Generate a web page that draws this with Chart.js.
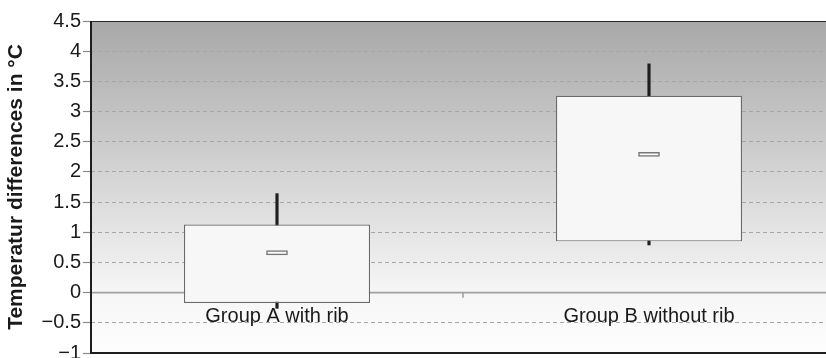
<!DOCTYPE html>
<html>
<head>
<meta charset="utf-8">
<script src="https://cdn.jsdelivr.net/npm/chart.js@4.4.0/dist/chart.umd.min.js"></script>
<style>
  html, body { margin: 0; padding: 0; background: #fff; overflow: hidden; }
  /* plot runs a little past the right edge of the window, as in the original */
  #wrap { width: 835px; height: 358px; }
</style>
</head>
<body>
<div id="wrap"><canvas id="chart_div"></canvas></div>
<script>

// values
var groups = ["Group A with rib", "Group B without rib"];
var boxLow = [-0.17, 0.85];
var boxHigh = [1.13, 3.26];
var whiskerLow = [-0.26, 0.79];
var whiskerHigh = [1.64, 3.79];
var medians = [0.66, 2.29];
var yTicks = [-1, -0.5, 0, 0.5, 1, 1.5, 2, 2.5, 3, 3.5, 4, 4.5];
var labelLevel = -0.4;   // category labels sit inside the plot, just under zero
var medianHalf = 0.035;

function pairs(a, b) {
    var out = [];
    for (var i = 0; i < a.length; i++) out.push([a[i], b[i]]);
    return out;
}

var medianBars = [];
for (var m = 0; m < medians.length; m++) {
    medianBars.push([medians[m] - medianHalf, medians[m] + medianHalf]);
}

function fmt(v) {
    return v < 0 ? "\u2212" + Math.abs(v) : String(v);
}

var backdrop = {
    id: "backdrop",
    beforeDraw: function (chart) {
        var a = chart.chartArea, ctx = chart.ctx;
        var ys = chart.scales.y;
        var zeroAt = (ys.getPixelForValue(0) - a.top) / (a.bottom - a.top);
        var g = ctx.createLinearGradient(0, a.top, 0, a.bottom);
        g.addColorStop(0, "#a8a8a8");
        g.addColorStop(zeroAt, "#f6f6f6");
        g.addColorStop(1, "#fdfdfd");
        ctx.save();
        ctx.fillStyle = g;
        ctx.fillRect(a.left, a.top, a.right - a.left, a.bottom - a.top);
        ctx.restore();
    },
    beforeDatasetsDraw: function (chart) {
        var a = chart.chartArea, ctx = chart.ctx;
        var y0 = chart.scales.y.getPixelForValue(0);
        var xs = chart.scales.x;
        var mid = (xs.getPixelForValue(0) + xs.getPixelForValue(1)) / 2;
        ctx.save();
        ctx.strokeStyle = "#a0a0a0";
        ctx.lineWidth = 1.6;
        ctx.beginPath();
        ctx.moveTo(a.left, y0);
        ctx.lineTo(a.right, y0);
        ctx.moveTo(mid, y0);
        ctx.lineTo(mid, y0 + 5);
        ctx.stroke();
        ctx.restore();
    },
    afterDatasetsDraw: function (chart) {
        var a = chart.chartArea, ctx = chart.ctx;
        var xs = chart.scales.x, ys = chart.scales.y;
        ctx.save();
        ctx.fillStyle = "#1a1a1a";
        ctx.font = "20px 'Liberation Sans', Arial, sans-serif";
        ctx.textAlign = "center";
        ctx.textBaseline = "middle";
        for (var i = 0; i < groups.length; i++) {
            ctx.fillText(groups[i], xs.getPixelForValue(i), ys.getPixelForValue(labelLevel));
        }
        // frame
        ctx.strokeStyle = "#2a2a2a";
        ctx.lineWidth = 1;
        ctx.beginPath();
        ctx.moveTo(a.left, a.top + 0.5);
        ctx.lineTo(a.right, a.top + 0.5);
        ctx.stroke();
        ctx.lineWidth = 2;
        ctx.strokeStyle = "#1e1e1e";
        ctx.beginPath();
        ctx.moveTo(a.left, a.top);
        ctx.lineTo(a.left, a.bottom);
        ctx.lineTo(a.right, a.bottom);
        ctx.stroke();
        ctx.restore();
    }
};

var data = {
    labels: groups,
    datasets: [
        {
            label: "median",
            data: medianBars,
            backgroundColor: "#fafafa",
            borderColor: "#777777",
            borderWidth: 1.5,
            borderSkipped: false,
            barThickness: 21,
            grouped: false,
            order: 0
        },
        {
            label: "box",
            data: pairs(boxLow, boxHigh),
            backgroundColor: "#f7f7f7",
            borderColor: "#6a6a6a",
            borderWidth: 1.2,
            borderSkipped: false,
            barPercentage: 0.5,
            categoryPercentage: 1,
            grouped: false,
            order: 1
        },
        {
            label: "whisker",
            data: pairs(whiskerLow, whiskerHigh),
            backgroundColor: "#1e1e1e",
            borderWidth: 0,
            barThickness: 2.5,
            grouped: false,
            order: 2
        }
    ]
};

var options = {
    responsive: true,
    maintainAspectRatio: false,
    animation: false,
    layout: { padding: { top: 21, bottom: 5, left: 0, right: 0 } },
    plugins: { legend: { display: false }, tooltip: { enabled: false } },
    scales: {
        x: {
            display: false
        },
        y: {
            min: -1,
            max: 4.5,
            afterBuildTicks: function (scale) {
                scale.ticks = yTicks.map(function (v) { return { value: v }; });
            },
            afterFit: function (scale) {
                scale.width = 91;
                scale.paddingTop = 0;
                scale.paddingBottom = 0;
            },
            grid: {
                color: "#a6a6a6",
                lineWidth: 1,
                drawTicks: true,
                tickLength: 8,
                tickColor: "#8a8a8a",
                tickWidth: 1.2
            },
            border: { display: false, dash: [4, 3] },
            ticks: {
                padding: 2,
                color: "#1a1a1a",
                font: { family: "'Liberation Sans', Arial, sans-serif", size: 20 },
                callback: function (v) { return fmt(v); }
            },
            title: {
                display: true,
                text: "Temperatur differences in \u00b0C",
                color: "#1a1a1a",
                font: { family: "'Liberation Sans', Arial, sans-serif", size: 21, weight: "bold" },
                padding: { top: 4, bottom: 0 }
            }
        }
    }
};

new Chart(document.getElementById("chart_div"), {
    type: "bar",
    data: data,
    options: options,
    plugins: [backdrop]
});
</script>
</body>
</html>
